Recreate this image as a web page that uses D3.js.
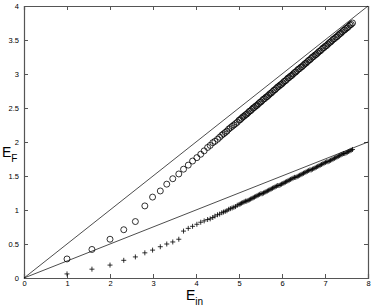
<!DOCTYPE html>
<html>
<head>
<meta charset="utf-8">
<script src="https://cdn.jsdelivr.net/npm/d3@7"></script>
<style>
  body { margin: 0; background: #fff; }
  svg { display: block; font-family: "Liberation Sans", Arial, sans-serif; }
</style>
</head>
<body>
<div id="chart"></div>
<script>
// incident energy, shared by both series
var xs = [1.00, 1.58, 2.00, 2.32, 2.59, 2.81, 2.99, 3.17, 3.32, 3.46, 3.60, 3.71, 3.82, 3.92, 4.02, 4.11, 4.19, 4.27,
  4.33, 4.39, 4.44, 4.50, 4.55, 4.60,
  4.64, 4.68, 4.72, 4.76, 4.80, 4.84, 4.88, 4.92, 4.96, 5.00,
  5.03, 5.06, 5.09, 5.12, 5.15, 5.18, 5.21, 5.24, 5.27, 5.30, 5.33, 5.36, 5.39, 5.42, 5.45, 5.48, 5.51, 5.54, 5.57, 5.60,
  5.63, 5.66, 5.69, 5.72, 5.75, 5.78, 5.81, 5.84, 5.87, 5.90, 5.93, 5.96, 5.99, 6.02, 6.05, 6.08, 6.11, 6.14, 6.17, 6.20,
  6.23, 6.26, 6.29, 6.32, 6.35, 6.38, 6.41, 6.44, 6.47, 6.50, 6.53, 6.56, 6.59, 6.62, 6.65, 6.68, 6.71, 6.74, 6.77, 6.80,
  6.83, 6.86, 6.89, 6.92, 6.95, 6.98, 7.01, 7.04, 7.07, 7.10, 7.13, 7.16, 7.19, 7.22, 7.25, 7.28, 7.31, 7.34, 7.37, 7.40,
  7.43, 7.46, 7.49, 7.52, 7.55, 7.58, 7.61, 7.64];

// circles (upper series)
var circleY = [0.28, 0.42, 0.57, 0.71, 0.83, 1.06, 1.19, 1.28, 1.38, 1.46, 1.53, 1.60, 1.66, 1.72, 1.77, 1.82, 1.87, 1.92,
  1.95, 1.99, 2.01, 2.04, 2.07, 2.10,
  2.12, 2.14, 2.16, 2.19, 2.21, 2.23, 2.25, 2.27, 2.29, 2.32,
  2.33, 2.35, 2.37, 2.38, 2.40, 2.41, 2.43, 2.45, 2.46, 2.48, 2.50, 2.51, 2.53, 2.54, 2.56, 2.58, 2.59, 2.61, 2.63, 2.64,
  2.66, 2.67, 2.69, 2.71, 2.72, 2.74, 2.76, 2.77, 2.79, 2.81, 2.82, 2.84, 2.85, 2.87, 2.89, 2.90, 2.92, 2.94, 2.95, 2.97,
  2.98, 3.00, 3.02, 3.03, 3.05, 3.07, 3.08, 3.10, 3.11, 3.13, 3.15, 3.16, 3.18, 3.20, 3.21, 3.23, 3.25, 3.26, 3.28, 3.29,
  3.31, 3.33, 3.34, 3.36, 3.38, 3.39, 3.41, 3.42, 3.44, 3.46, 3.47, 3.49, 3.51, 3.52, 3.54, 3.55, 3.57, 3.59, 3.60, 3.62,
  3.64, 3.65, 3.67, 3.68, 3.70, 3.72, 3.73, 3.75];

// pluses (lower series)
var plusY = [0.06, 0.13, 0.19, 0.26, 0.31, 0.37, 0.41, 0.46, 0.50, 0.53, 0.57, 0.69, 0.73, 0.76, 0.79, 0.82, 0.84, 0.86,
  0.87, 0.89, 0.91, 0.93, 0.94, 0.96,
  0.97, 0.98, 0.99, 1.01, 1.02, 1.03, 1.04, 1.05, 1.07, 1.08,
  1.09, 1.10, 1.11, 1.12, 1.13, 1.13, 1.14, 1.15, 1.16, 1.17, 1.18, 1.19, 1.20, 1.21, 1.22, 1.23, 1.24, 1.24, 1.25, 1.26,
  1.27, 1.28, 1.29, 1.30, 1.31, 1.32, 1.33, 1.34, 1.35, 1.36, 1.36, 1.37, 1.38, 1.39, 1.40, 1.41, 1.42, 1.43, 1.44, 1.45,
  1.46, 1.47, 1.48, 1.48, 1.49, 1.50, 1.51, 1.52, 1.53, 1.54, 1.55, 1.56, 1.57, 1.58, 1.59, 1.59, 1.60, 1.61, 1.62, 1.63,
  1.64, 1.65, 1.66, 1.67, 1.68, 1.69, 1.70, 1.71, 1.71, 1.72, 1.73, 1.74, 1.75, 1.76, 1.77, 1.78, 1.79, 1.80, 1.81, 1.82,
  1.83, 1.83, 1.84, 1.85, 1.86, 1.87, 1.88, 1.89];

// reference lines E_F = slope * E_in
var slopes = [0.5, 0.25];

var xTicks = [0, 1, 2, 3, 4, 5, 6, 7, 8];
var yTicks = [0, 0.5, 1, 1.5, 2, 2.5, 3, 3.5, 4];

var margin = {top: 6, right: 6, bottom: 29, left: 24},
    width = 374 - margin.left - margin.right,
    height = 307 - margin.top - margin.bottom;

var svg = d3.select("#chart")
  .append("svg")
    .attr("width", 374)
    .attr("height", 307)
  .append("g")
    .attr("transform", "translate(" + margin.left + "," + margin.top + ")");

var x = d3.scaleLinear().domain([0, 8]).range([0, width]);
var y = d3.scaleLinear().domain([0, 4]).range([height, 0]);

var fmt = function(d) { return d3.format("~g")(d); };

// axes: ticks point inward on all four sides
var gx = svg.append("g")
  .attr("transform", "translate(0," + height + ")")
  .call(d3.axisBottom(x).tickValues(xTicks).tickFormat(fmt).tickSize(-4).tickPadding(3));
var gy = svg.append("g")
  .call(d3.axisLeft(y).tickValues(yTicks).tickFormat(fmt).tickSize(-4).tickPadding(5));
var gt = svg.append("g")
  .call(d3.axisTop(x).tickValues(xTicks).tickFormat("").tickSize(-4));
var gr = svg.append("g")
  .attr("transform", "translate(" + width + ",0)")
  .call(d3.axisRight(y).tickValues(yTicks).tickFormat("").tickSize(-4));

[gx, gy, gt, gr].forEach(function(g) {
  g.selectAll(".domain").attr("stroke", "#555").attr("stroke-width", 1.2);
  g.selectAll(".tick line").attr("stroke", "#555");
  g.selectAll("text").attr("font-size", 7.5).attr("fill", "#000")
    .attr("font-family", "Liberation Sans, Arial, sans-serif");
});

// reference lines
svg.selectAll(".ref")
  .data(slopes)
  .enter()
  .append("line")
    .attr("x1", x(0))
    .attr("y1", y(0))
    .attr("x2", x(8))
    .attr("y2", function(d) { return y(8 * d); })
    .attr("stroke", "#000")
    .attr("stroke-width", 0.7);

// circle markers
svg.selectAll(".circ")
  .data(xs)
  .enter()
  .append("circle")
    .attr("cx", function(d) { return x(d); })
    .attr("cy", function(d, i) { return y(circleY[i]); })
    .attr("r", 3)
    .attr("fill", "none")
    .attr("stroke", "#000")
    .attr("stroke-width", 0.8);

// plus markers
svg.selectAll(".plus")
  .data(xs)
  .enter()
  .append("path")
    .attr("transform", function(d, i) { return "translate(" + x(d) + "," + y(plusY[i]) + ")"; })
    .attr("d", "M-2.5,0H2.5M0,-2.5V2.5")
    .attr("stroke", "#000")
    .attr("stroke-width", 0.8);

// axis labels
var xl = svg.append("text")
  .attr("x", 162)
  .attr("y", height + 22)
  .attr("font-size", 14);
xl.append("tspan").text("E");
xl.append("tspan").attr("font-size", 10).attr("dy", 5).text("in");

var yl = svg.append("text")
  .attr("x", -22)
  .attr("y", 151)
  .attr("font-size", 14);
yl.append("tspan").text("E");
yl.append("tspan").attr("font-size", 10).attr("dy", 5).text("F");
</script>
</body>
</html>
